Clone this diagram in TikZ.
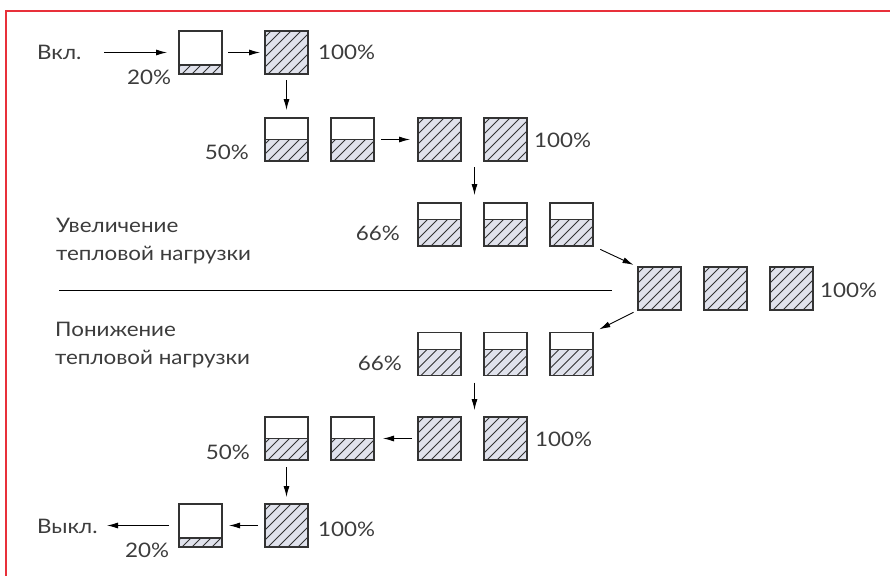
\documentclass[tikz,border=0pt]{standalone}
\usepackage{fontspec}
\setmainfont{Lato}[FakeStretch=1.12]
\usetikzlibrary{arrows.meta,calc}
\definecolor{framered}{RGB}{232,48,58}
\definecolor{ink}{RGB}{51,51,51}
\definecolor{txt}{RGB}{60,60,60}
\definecolor{hatchbg}{RGB}{224,226,236}
\tikzset{
  tank/.style={draw=ink, line width=1.1pt, fill=white, minimum width=43pt, minimum height=43pt, inner sep=0pt, outer sep=0pt},
  lbl/.style={font=\fontsize{20}{23}\selectfont, text=txt, inner sep=0pt},
  arr/.style={draw=black, line width=0.9pt, -{Latex[length=11pt,width=6pt]}},
}
% hatch the lower part of tank #1 to fraction #2
\newcommand\tankfill[2]{%
  \begin{scope}
    \clip (#1.south west) rectangle ($(#1.south east)+(0,{-#2*43})$);
    \fill[hatchbg] (#1.south west) rectangle (#1.north east);
    \foreach \k in {-50,-40,...,50} {\draw[ink, line width=0.75pt] ($(#1.south west)+(\k+3,0)$) -- ++(43,-43);}
  \end{scope}
  \draw[ink, line width=1.1pt] ($(#1.south west)+(0,{-#2*43})$) -- ($(#1.south east)+(0,{-#2*43})$);
  \draw[ink, line width=1.1pt] (#1.south west) rectangle (#1.north east);
}
\begin{document}
\begin{tikzpicture}[x=1pt,y=-1pt]
\useasboundingbox (0,0) rectangle (890,576);
% frame
\draw[framered, line width=1.6pt] (890,11) -- (6,11) -- (6,576);
% row 1
\node[tank] (a1) at (200.5,52.5) {};
\node[tank] (a2) at (286.5,52.5) {};
% row 2
\node[tank] (b1) at (286.5,139.5) {};
\node[tank] (b2) at (352.5,139.5) {};
\node[tank] (b3) at (439.5,139.5) {};
\node[tank] (b4) at (505.5,139.5) {};
% row 3
\node[tank] (c1) at (439.5,224.5) {};
\node[tank] (c2) at (505.5,224.5) {};
\node[tank] (c3) at (571.5,224.5) {};
% row 4
\node[tank] (d1) at (659.5,288.5) {};
\node[tank] (d2) at (725.5,288.5) {};
\node[tank] (d3) at (791.5,288.5) {};
% row 5
\node[tank] (e1) at (439.5,354) {};
\node[tank] (e2) at (505.5,354) {};
\node[tank] (e3) at (571.5,354) {};
% row 6
\node[tank] (f1) at (286.5,438.5) {};
\node[tank] (f2) at (352.5,438.5) {};
\node[tank] (f3) at (439.5,438.5) {};
\node[tank] (f4) at (505.5,438.5) {};
% row 7
\node[tank] (g1) at (200.5,525.5) {};
\node[tank] (g2) at (286.5,525.5) {};
% fills
\tankfill{a1}{0.21}\tankfill{a2}{1}
\tankfill{b1}{0.5}\tankfill{b2}{0.5}\tankfill{b3}{1}\tankfill{b4}{1}
\tankfill{c1}{0.61}\tankfill{c2}{0.61}\tankfill{c3}{0.61}
\tankfill{d1}{1}\tankfill{d2}{1}\tankfill{d3}{1}
\tankfill{e1}{0.61}\tankfill{e2}{0.61}\tankfill{e3}{0.61}
\tankfill{f1}{0.5}\tankfill{f2}{0.5}\tankfill{f3}{1}\tankfill{f4}{1}
\tankfill{g1}{0.21}\tankfill{g2}{1}
% labels
\node[lbl, anchor=west] (won) at (37,52) {Вкл.};
\node[lbl] (p20a) at (149,77) {20\%};
\node[lbl, anchor=west] (p100a) at (318,52) {100\%};
\node[lbl, anchor=east] (p50b) at (249,152) {50\%};
\node[lbl, anchor=west] (p100b) at (534,140) {100\%};
\node[lbl, anchor=east] (p66c) at (400,233) {66\%};
\node[lbl, anchor=west] (p100d) at (820,290) {100\%};
\node[lbl, anchor=east] (p66e) at (402,363) {66\%};
\node[lbl, anchor=east] (p50f) at (250,452) {50\%};
\node[lbl, anchor=west] (p100f) at (535,439) {100\%};
\node[lbl, anchor=west] (woff) at (37,526) {Выкл.};
\node[lbl] (p20g) at (147,550) {20\%};
\node[lbl, anchor=west] (p100g) at (318,529) {100\%};
\node[lbl, anchor=base west] (up1) at (56,232) {Увеличение};
\node[lbl, anchor=base west] (up2) at (56,260) {тепловой нагрузки};
\node[lbl, anchor=base west] (dn1) at (55,336) {Понижение};
\node[lbl, anchor=base west] (dn2) at (55,364) {тепловой нагрузки};
% divider
\coordinate (hl) at (59,290);
\coordinate (hr) at (612,290);
\draw[black, line width=0.9pt] (hl) -- (hr);
% arrows
\coordinate (sIn) at (104,52.5);
\coordinate (sOut) at (107,525.5);
\draw[arr, shorten >=12pt] (sIn) -- (a1.west);
\draw[arr, shorten <=6pt, shorten >=5pt] (a1.east) -- (a2.west);
\draw[arr, shorten <=6pt, shorten >=8pt] (a2.south) -- (b1.north);
\draw[arr, shorten <=7pt, shorten >=8pt] (b2.east) -- (b3.west);
\draw[arr, shorten <=6pt, shorten >=8pt] ($(b3.south)!0.53!(b4.south)$) -- ($(c1.north)!0.53!(c2.north)$);
\draw[arr, shorten <=8pt, shorten >=5pt] (c3.south east) -- (d1.north west);
\draw[arr, shorten <=5pt, shorten >=7pt] (d1.south west) -- (e3.north east);
\draw[arr, shorten <=7pt, shorten >=7pt] ($(e1.south)!0.53!(e2.south)$) -- ($(f3.north)!0.53!(f4.north)$);
\draw[arr, shorten <=6pt, shorten >=9pt] (f3.west) -- (f2.east);
\draw[arr, shorten <=7pt, shorten >=7pt] (f1.south) -- (g2.north);
\draw[arr, shorten <=7pt, shorten >=7pt] (g2.west) -- (g1.east);
\draw[arr, shorten <=10pt] (g1.west) -- (sOut);
\end{tikzpicture}
\end{document}
